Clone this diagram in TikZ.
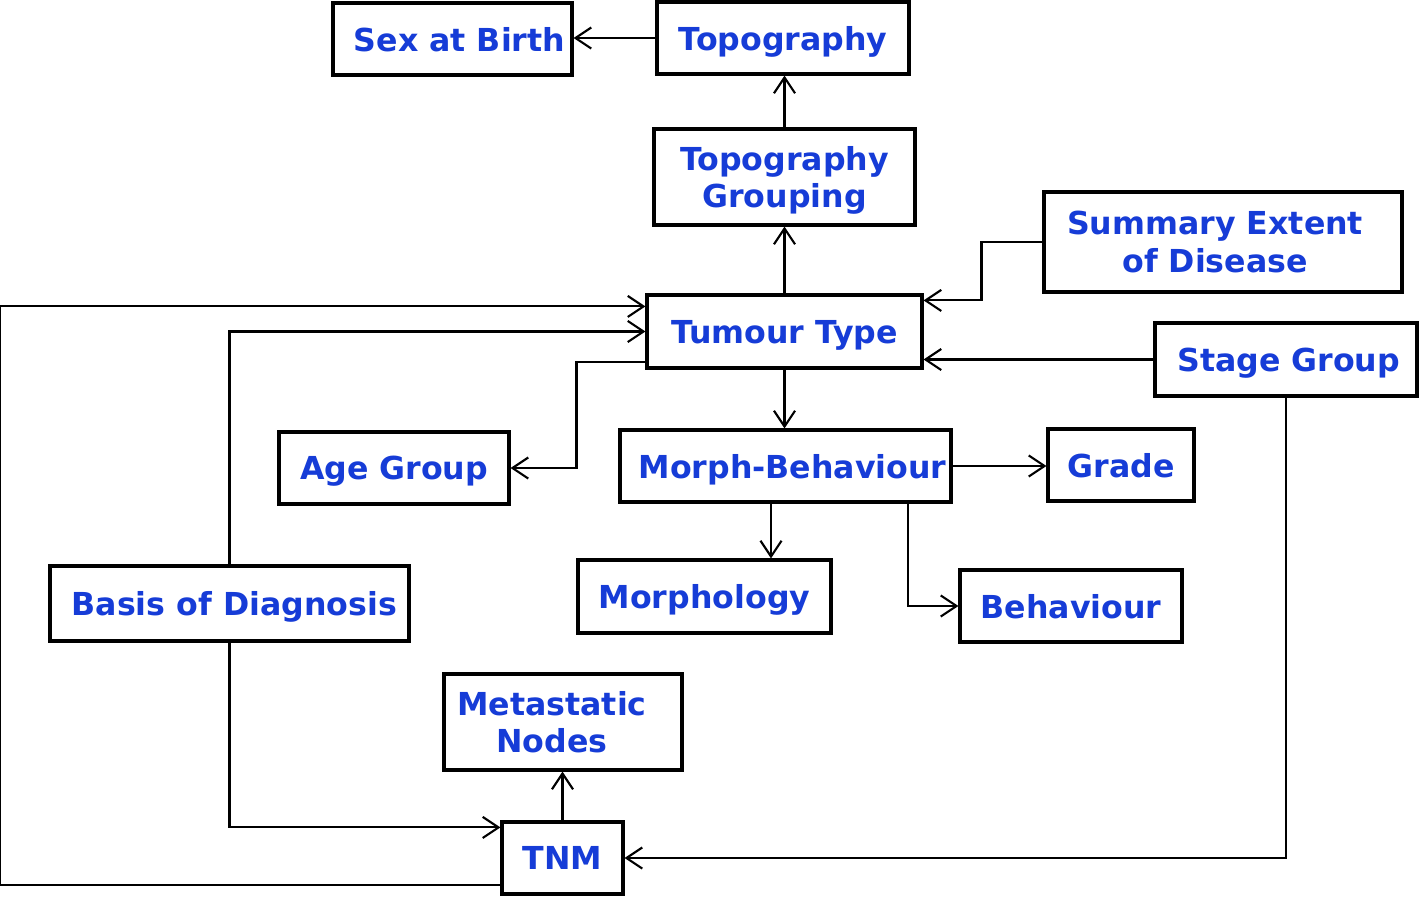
\documentclass[tikz,border=0pt]{standalone}
\usepackage{fontspec}
\setmainfont{DejaVu Sans}
\usetikzlibrary{positioning}
\usetikzlibrary{calc,arrows.meta}

\definecolor{labelblue}{RGB}{22,60,215}

\tikzset{
	box/.style={draw, line width=1.8pt, fill=white, inner sep=0pt, align=center,
		text depth=0pt, text=labelblue, font=\bfseries\fontsize{18}{21.5}\selectfont},
	link/.style={line width=1.2pt, -{Straight Barb[length=9pt,width=12pt]}}
}

\begin{document}
\begin{tikzpicture}[x=0.02cm, y=-0.02cm]

	% ------------------------------------------------
	% Ensure the dimensions of graphic are appropriate
	\useasboundingbox (0,0) rectangle (1419,897);

	% ------------------------------------------------
	% Boxes
	\node[box, minimum width=4.78cm, minimum height=1.44cm] (Sex)       at (452.5,39)   {\hspace*{8pt}Sex at Birth};
	\node[box, minimum width=5.04cm, minimum height=1.44cm] (Topo)      at (783,38)     {Topography};
	\node[box, minimum width=5.22cm, minimum height=1.92cm] (TopoGrp)   at (784.5,177)  {Topography\\Grouping};
	\node[box, minimum width=7.16cm, minimum height=2.00cm] (Summary)   at (1223,242)   {Summary Extent\hspace*{9pt}\\of Disease\hspace*{9pt}};
	\node[box, minimum width=5.50cm, minimum height=1.46cm] (Tumour)    at (784.5,331.5){Tumour Type};
	\node[box, minimum width=5.24cm, minimum height=1.46cm] (Stage)     at (1286,359.5) {\hspace*{3pt}Stage Group};
	\node[box, minimum width=4.60cm, minimum height=1.44cm] (Age)       at (394,468)    {Age Group};
	\node[box, minimum width=6.62cm, minimum height=1.44cm] (MorphBeh)  at (785.5,466)  {\hspace*{8pt}Morph-Behaviour};
	\node[box, minimum width=2.92cm, minimum height=1.44cm] (Grade)     at (1121,465)   {Grade};
	\node[box, minimum width=7.18cm, minimum height=1.50cm] (Basis)     at (229.5,603.5){\hspace*{5.5pt}Basis of Diagnosis};
	\node[box, minimum width=5.06cm, minimum height=1.46cm] (Morph)     at (704.5,596.5){Morphology};
	\node[box, minimum width=4.44cm, minimum height=1.44cm] (Behav)     at (1071,606)   {Behaviour};
	\node[box, minimum width=4.76cm, minimum height=1.92cm] (Meta)      at (563,722)    {Metastatic\hspace*{12.5pt}\\Nodes\hspace*{12.5pt}};
	\node[box, minimum width=2.42cm, minimum height=1.44cm] (TNM)       at (562.5,858)  {TNM};

	% ------------------------------------------------
	% Relevant coordinates
	\path (MorphBeh.south) +(-14.5,0) coordinate (MBLeft);
	\path (MorphBeh.south) +(122.5,0) coordinate (MBRight);
	\path (Tumour.north east) +(0,7)  coordinate (TumourNE);
	\path (Tumour.north west) +(0,13) coordinate (TumourNW);
	\path (Tumour.south west) +(0,-8) coordinate (TumourSW);
	\path (TNM.north west)    +(0,7)  coordinate (TNMIn);
	\path (TNM.south west)    +(0,-11) coordinate (TNMOut);

	% ----------------
	% Connectors
	\draw[link] (Topo.west) -- (Topo.west -| Sex.east);
	\draw[link] (TopoGrp.north) -- (TopoGrp.north |- Topo.south);
	\draw[link] (Tumour.north) -- (TopoGrp.south);
	\draw[link] (Summary.west) -- ++(-61,0) |- (TumourNE);
	\draw[link] (Stage.west) -- (Stage.west -| Tumour.east);
	\draw[link] (Stage.south) |- (TNM.east);
	\draw[link] (TumourSW) -- ++(-69,0) |- (Age.east);
	\draw[link] (Tumour.south) -- (Tumour.south |- MorphBeh.north);
	\draw[link] (MorphBeh.east) -- (MorphBeh.east -| Grade.west);
	\draw[link] (MBLeft) -- (MBLeft |- Morph.north);
	\draw[link] (MBRight) |- (Behav.west);
	\draw[link] (Basis.north) |- (Tumour.west);
	\draw[link] (Basis.south) |- (TNMIn);
	\draw[link] (TNMOut) -- ++(-500,0) |- (TumourNW);
	\draw[link] (TNM.north) -- (TNM.north |- Meta.south);

\end{tikzpicture}
\end{document}
